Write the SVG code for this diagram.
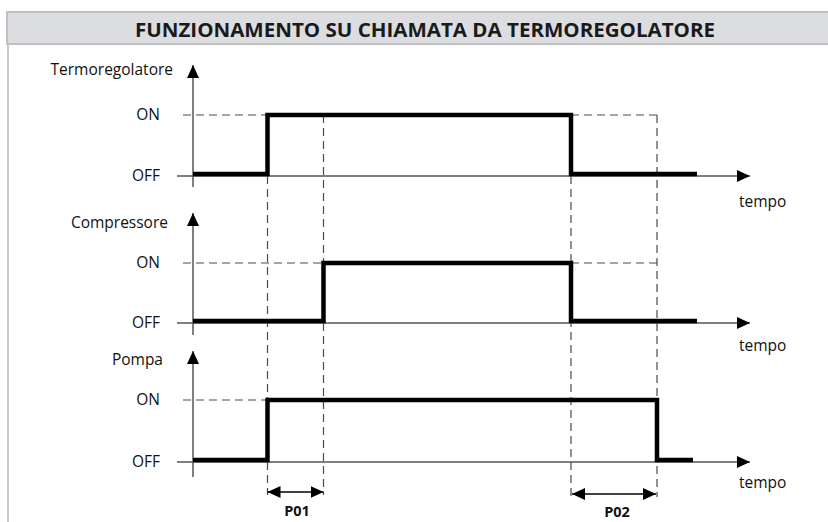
<svg xmlns="http://www.w3.org/2000/svg" width="828" height="522" viewBox="0 0 828 522">
  <style>
    .lbl { font-family: "Open Sans", "Liberation Sans", sans-serif; font-size: 15.5px; fill: #111; }
    .ax { stroke: #555; stroke-width: 1.5; fill: none; }
    .dash { stroke: #4a4a4a; stroke-width: 1.2; stroke-dasharray: 8 5; fill: none; }
    .sig { stroke: #000; stroke-width: 4.5; fill: none; stroke-linejoin: miter; }
    .dim { stroke: #000; stroke-width: 1.5; fill: none; }
    .bold { font-family: "Open Sans", "Liberation Sans", sans-serif; font-weight: bold; font-size: 14.5px; fill: #111; }
  </style>
  <defs>
    <marker id="axArrow" markerUnits="userSpaceOnUse" markerWidth="14" markerHeight="14" refX="13" refY="7" orient="auto">
      <path d="M0,1 L13,7 L0,13 Z" fill="#000"/>
    </marker>
    <marker id="dimArrow" markerUnits="userSpaceOnUse" markerWidth="14" markerHeight="14" refX="13" refY="7" orient="auto-start-reverse">
      <path d="M0,1 L13,7 L0,13 Z" fill="#000"/>
    </marker>
  </defs>
  <rect width="828" height="522" fill="#fff"/>

  <g id="frame">
    <rect x="7" y="12" width="830" height="32" fill="#dcdde0" stroke="#bfbfbf" stroke-width="2"/>
    <line x1="8" y1="44" x2="8" y2="522" stroke="#c8c8c8" stroke-width="2"/>
    <text x="425" y="37" text-anchor="middle" font-family="'Open Sans', 'Liberation Sans', sans-serif" font-weight="bold" font-size="19" fill="#1a1a1a" textLength="580" lengthAdjust="spacingAndGlyphs">FUNZIONAMENTO SU CHIAMATA DA TERMOREGOLATORE</text>
  </g>

  <g id="connectors">
    <!-- reference dashed lines -->
    <path class="dash" d="M183,115 H267 M571,115 H657 M183,263 H323 M571,263 H657 M183,400 H267"/>
    <path class="dash" d="M267.5,176 V495 M323.5,115 V495 M571,176 V497 M657,115 V497"/>
    <!-- axes -->
    <line class="ax" x1="193" y1="187" x2="193" y2="65" marker-end="url(#axArrow)"/>
    <line class="ax" x1="177" y1="176" x2="750" y2="176" marker-end="url(#axArrow)"/>
    <line class="ax" x1="193" y1="335" x2="193" y2="213" marker-end="url(#axArrow)"/>
    <line class="ax" x1="177" y1="323" x2="750" y2="323" marker-end="url(#axArrow)"/>
    <line class="ax" x1="193" y1="477" x2="193" y2="351" marker-end="url(#axArrow)"/>
    <line class="ax" x1="177" y1="462" x2="750" y2="462" marker-end="url(#axArrow)"/>
    <!-- dimension arrows -->
    <line class="dim" x1="267.5" y1="492" x2="323.5" y2="492" marker-start="url(#dimArrow)" marker-end="url(#dimArrow)"/>
    <line class="dim" x1="572" y1="494" x2="656" y2="494" marker-start="url(#dimArrow)" marker-end="url(#dimArrow)"/>
  </g>

  <g id="termoregolatore">
    <text class="lbl" x="173" y="75" text-anchor="end">Termoregolatore</text>
    <text class="lbl" x="160" y="120" text-anchor="end">ON</text>
    <text class="lbl" x="160" y="181" text-anchor="end">OFF</text>
    <text class="lbl" x="739" y="207">tempo</text>
    <path class="sig" d="M193,174 H267.5 V115 H571 V174 H697"/>
  </g>

  <g id="compressore">
    <text class="lbl" x="168" y="228" text-anchor="end">Compressore</text>
    <text class="lbl" x="160" y="268" text-anchor="end">ON</text>
    <text class="lbl" x="160" y="328" text-anchor="end">OFF</text>
    <text class="lbl" x="739" y="351">tempo</text>
    <path class="sig" d="M193,321 H323.5 V263 H571 V321 H697"/>
  </g>

  <g id="pompa">
    <text class="lbl" x="163" y="365" text-anchor="end">Pompa</text>
    <text class="lbl" x="160" y="405" text-anchor="end">ON</text>
    <text class="lbl" x="160" y="467" text-anchor="end">OFF</text>
    <text class="lbl" x="739" y="488">tempo</text>
    <path class="sig" d="M193,460 H267.5 V400 H657 V460 H693"/>
  </g>

  <g id="p01">
    <text class="bold" x="297" y="516" text-anchor="middle">P01</text>
  </g>
  <g id="p02">
    <text class="bold" x="617" y="517" text-anchor="middle">P02</text>
  </g>
</svg>
